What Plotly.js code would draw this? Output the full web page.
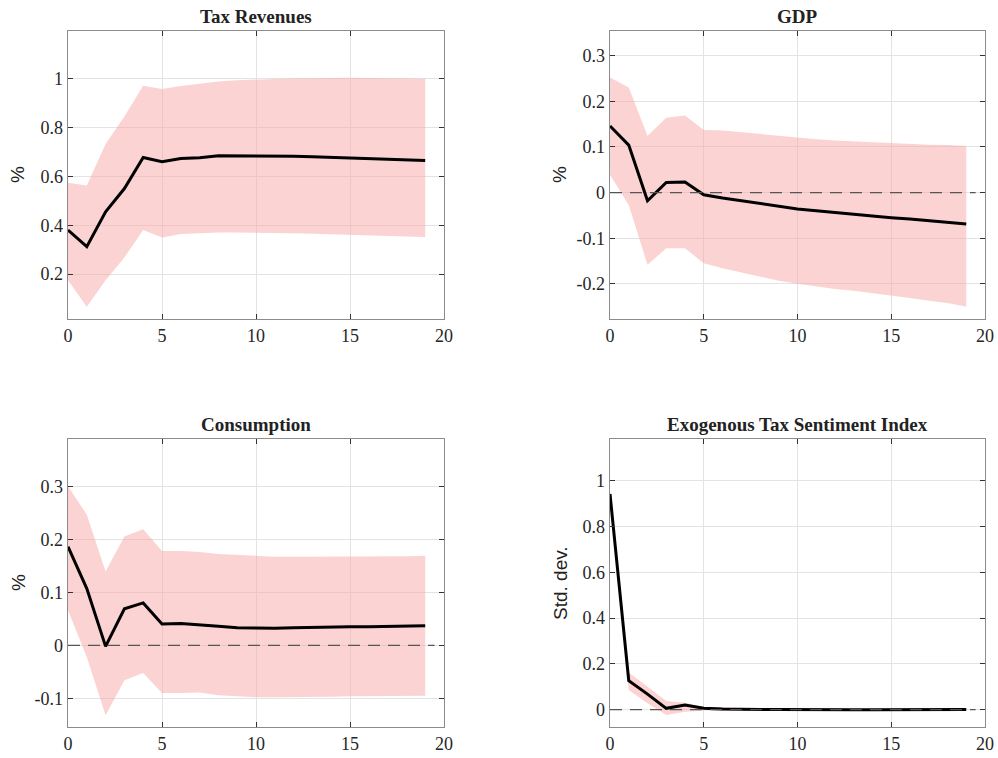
<!DOCTYPE html>
<html>
<head>
<meta charset="utf-8">
<script src="https://cdn.plot.ly/plotly-3.0.1.min.js"></script>
<style>html,body{margin:0;padding:0;background:#fff;}#chart{width:998px;height:758px;}</style>
</head>
<body>
<div id="chart"></div>
<script>
// Horizons
const horizon = [0,1,2,3,4,5,6,7,8,9,10,11,12,13,14,15,16,17,18,19];

// Tax Revenues
const taxMid   = [0.38,0.312,0.455,0.55,0.677,0.66,0.673,0.676,0.684,0.684,0.685,0.683,0.682,0.680,0.678,0.676,0.674,0.671,0.668,0.665];
const taxUpper = [0.574,0.563,0.732,0.845,0.971,0.958,0.970,0.980,0.988,0.993,0.997,0.999,1.001,1.003,1.004,1.004,1.003,1.002,1.001,1.000];
const taxLower = [0.175,0.066,0.175,0.268,0.38,0.35,0.364,0.368,0.370,0.370,0.370,0.368,0.367,0.365,0.363,0.360,0.358,0.356,0.354,0.352];

// GDP
const gdpMid   = [0.146,0.104,-0.018,0.022,0.023,-0.005,-0.012,-0.018,-0.025,-0.031,-0.036,-0.040,-0.044,-0.047,-0.051,-0.055,-0.058,-0.062,-0.065,-0.069];
const gdpUpper = [0.252,0.230,0.124,0.164,0.169,0.137,0.136,0.132,0.128,0.124,0.120,0.117,0.114,0.112,0.110,0.109,0.107,0.105,0.104,0.102];
const gdpLower = [0.039,-0.027,-0.158,-0.122,-0.122,-0.155,-0.166,-0.175,-0.185,-0.193,-0.200,-0.206,-0.211,-0.215,-0.220,-0.226,-0.231,-0.237,-0.242,-0.250];

// Consumption
const conMid   = [0.186,0.107,-0.002,0.069,0.080,0.040,0.041,0.039,0.036,0.033,0.032,0.032,0.033,0.034,0.034,0.035,0.035,0.036,0.036,0.037];
const conUpper = [0.300,0.246,0.139,0.205,0.219,0.178,0.178,0.176,0.172,0.170,0.168,0.167,0.167,0.167,0.167,0.167,0.167,0.167,0.168,0.169];
const conLower = [0.066,-0.022,-0.132,-0.066,-0.052,-0.090,-0.090,-0.089,-0.094,-0.096,-0.098,-0.098,-0.098,-0.097,-0.097,-0.096,-0.096,-0.096,-0.095,-0.095];

// Exogenous Tax Sentiment Index
const sentMid   = [0.942,0.127,0.068,0.006,0.020,0.006,0.003,0.001,0.001,0.001,0.000,0.000,0.000,0.000,0.000,0.000,0.001,0.001,0.001,0.001];
const sentUpper = [0.950,0.163,0.100,0.038,0.030,0.012,0.011,0.006,0.005,0.004,0.003,0.003,0.003,0.002,0.002,0.002,0.002,0.002,0.002,0.002];
const sentLower = [0.934,0.086,0.028,-0.023,-0.009,-0.004,-0.003,-0.002,-0.002,-0.002,-0.002,-0.002,-0.002,-0.002,-0.002,-0.002,-0.001,-0.001,-0.001,-0.001];

// Titles and tick labels
const panelTitles = ["Tax Revenues","GDP","Consumption","Exogenous Tax Sentiment Index"];
const yLabels = ["%","%","%","Std. dev."];
const xTickVals = [0,5,10,15,20];
const xTickText = ["0","5","10","15","20"];
const taxTickVals = [0.2,0.4,0.6,0.8,1];
const taxTickText = ["0.2","0.4","0.6","0.8","1"];
const gdpTickVals = [-0.2,-0.1,0,0.1,0.2,0.3];
const gdpTickText = ["-0.2","-0.1","0","0.1","0.2","0.3"];
const conTickVals = [-0.1,0,0.1,0.2,0.3];
const conTickText = ["-0.1","0","0.1","0.2","0.3"];
const sentTickVals = [0,0.2,0.4,0.6,0.8,1];
const sentTickText = ["0","0.2","0.4","0.6","0.8","1"];

const panels = [
  {mid: taxMid, up: taxUpper, lo: taxLower, tv: taxTickVals, tt: taxTickText, range: [0.016,1.195], zero:false},
  {mid: gdpMid, up: gdpUpper, lo: gdpLower, tv: gdpTickVals, tt: gdpTickText, range: [-0.277,0.354], zero:true},
  {mid: conMid, up: conUpper, lo: conLower, tv: conTickVals, tt: conTickText, range: [-0.154,0.389], zero:true},
  {mid: sentMid, up: sentUpper, lo: sentLower, tv: sentTickVals, tt: sentTickText, range: [-0.0755,1.182], zero:true}
];

const W = 998, H = 758;
const xDom = [[68/W, 444/W],[610/W, 985/W],[68/W, 444/W],[610/W, 985/W]];
const yDom = [[1-319/H, 1-31/H],[1-319/H, 1-31/H],[1-727/H, 1-439/H],[1-727/H, 1-439/H]];

const fillColor = 'rgba(247,168,168,0.5)';
const tickFont = {family: 'Liberation Serif, Times New Roman, serif', size: 18, color: '#262626'};

const traces = [];
const layout = {
  width: W, height: H,
  margin: {l:0, r:0, t:0, b:0},
  paper_bgcolor: '#fff', plot_bgcolor: '#fff',
  showlegend: false,
  annotations: [], shapes: []
};

panels.forEach((p, i) => {
  const n = i + 1;
  const xa = n === 1 ? 'x' : 'x' + n;
  const ya = n === 1 ? 'y' : 'y' + n;
  traces.push({x: horizon, y: p.lo, xaxis: xa, yaxis: ya, mode: 'lines', line: {width: 0, color: fillColor}, hoverinfo: 'skip'});
  traces.push({x: horizon, y: p.up, xaxis: xa, yaxis: ya, mode: 'lines', line: {width: 0, color: fillColor}, fill: 'tonexty', fillcolor: fillColor, hoverinfo: 'skip'});
  traces.push({x: horizon, y: p.mid, xaxis: xa, yaxis: ya, mode: 'lines', line: {width: 3, color: '#000'}});

  const axCommon = {
    showline: true, linecolor: '#8c8c8c', linewidth: 1.3, mirror: 'allticks',
    ticks: 'inside', ticklen: 5, tickcolor: '#333', tickwidth: 1,
    showgrid: true, gridcolor: '#e3e3e3', gridwidth: 1,
    zeroline: false, tickfont: tickFont, fixedrange: true
  };
  layout['xaxis' + (n === 1 ? '' : n)] = Object.assign({}, axCommon, {
    domain: xDom[i], anchor: ya, range: [0,20],
    tickmode: 'array', tickvals: xTickVals, ticktext: xTickText
  });
  layout['yaxis' + (n === 1 ? '' : n)] = Object.assign({}, axCommon, {
    domain: yDom[i], anchor: xa, range: p.range,
    tickmode: 'array', tickvals: p.tv, ticktext: p.tt
  });

  if (p.zero) {
    layout.shapes.push({type: 'line', xref: xa, yref: ya, x0: 0, x1: 19.5, y0: 0, y1: 0,
      line: {color: '#555', width: 1.2, dash: '12px,8px'}, layer: 'above'});
  }

  const xc = (xDom[i][0] + xDom[i][1]) / 2;
  layout.annotations.push({text: '<b>' + panelTitles[i] + '</b>', xref: 'paper', yref: 'paper',
    x: xc, y: yDom[i][1], yanchor: 'bottom', xanchor: 'center', yshift: 2, showarrow: false,
    font: {family: 'Liberation Serif, Times New Roman, serif', size: 19, color: '#222'}});
  layout.annotations.push({text: yLabels[i], xref: 'paper', yref: 'paper',
    x: xDom[i][0], y: (yDom[i][0] + yDom[i][1]) / 2, xanchor: 'center', yanchor: 'middle',
    xshift: -50, textangle: -90, showarrow: false,
    font: {family: 'Liberation Sans, Helvetica, Arial, sans-serif', size: 19, color: '#222'}});
});

Plotly.newPlot('chart', traces, layout, {displayModeBar: false, staticPlot: true});
</script>
</body>
</html>
